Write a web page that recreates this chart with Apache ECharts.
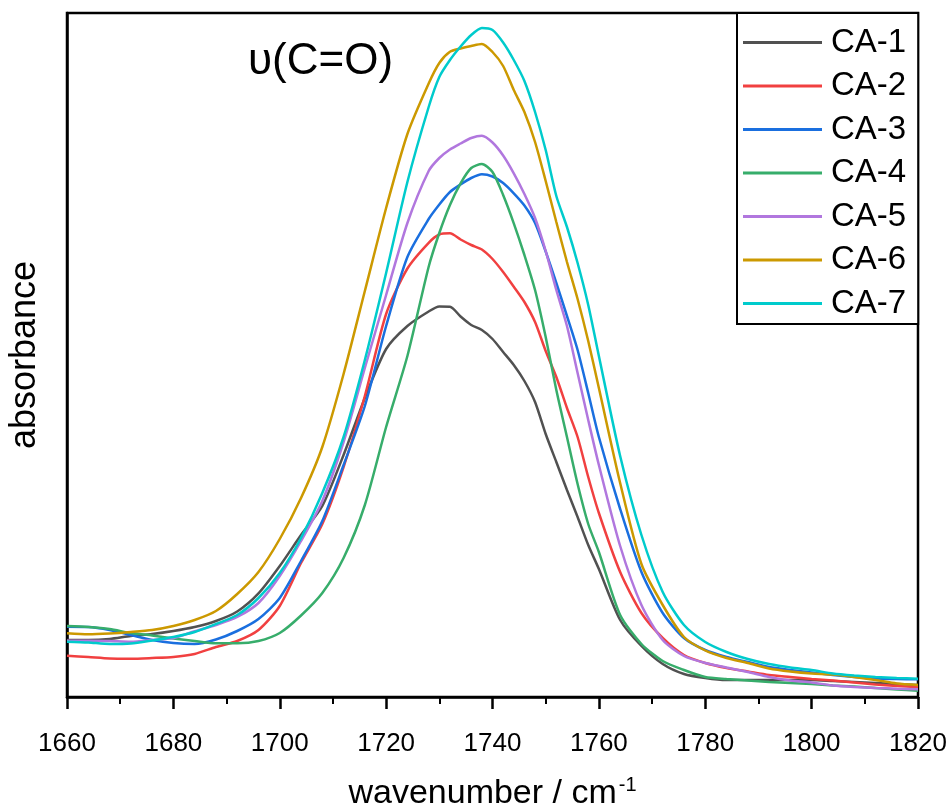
<!DOCTYPE html>
<html>
<head>
<meta charset="utf-8">
<script src="https://cdn.jsdelivr.net/npm/echarts@6/dist/echarts.min.js"></script>
<style>html,body{margin:0;padding:0;background:#fff}#c{width:951px;height:806px}</style>
</head>
<body>
<div id="c"></div>
<script>
var wavenumbers = [1660,1664,1668,1672,1676,1680,1684,1688,1692,1696,1700,1704,1708,1712,1716,1720,1724,1728,
  1730,1732,1734,1736,1738,1740,1742,1744,1746,1748,1750,1752,1754,1756,1758,1760,
  1764,1768,1772,1776,1780,1784,1788,1792,1796,1800,1804,1808,1812,1816,1820];
var seriesNames = ['CA-1','CA-2','CA-3','CA-4','CA-5','CA-6','CA-7'];
var ca1 = [57,57,58,61,63,66,70,76,85.5,103.6,131,162,191,242,299,348,371,385.5,
  390.5,390.3,380.5,372,367,358,345,332,316,295,263,235,207,180,152,128,
  77,51,33,23,19,17,17,17,17,17,16,15,14,13,12];
var ca2 = [41.3,40,38.5,38.3,39,40,43,50,56,67,91,134,173,230,301,383,428.5,454.2,
  462.5,463.7,457.5,452,447.5,438,425,410.3,395,375,346,320,289,260,220,184,
  125,84,59,42,34,29,25.5,22,20,18,16.5,14.5,12.5,11,9.7];
var ca3 = [70.3,70,67,62,57,54,53,57.5,66,78,99,136,176,232,291,371,440,478,
  492.5,505,512.5,519,522.7,520.5,514,503.7,491.5,474,445.5,414,381,347,304,260,
  188,125,84,59,47,40,35,30,27,24.5,22,20,18.5,18,17.7];
var ca4 = [71,70,68,64,61.5,58.5,56,53.7,53.7,56,64,81.5,104,139,192,270,341,430.3,
  464,492,513.7,529,533,525,502,473.7,442,407,360,307,260,213,173,145,
  82,53,36,27,20,18,16.5,15,14,13,11.5,10.5,9,7.5,6.3];
var ca5 = [56.3,56.3,56,55.3,57,59,65.7,72,80,94,121,156,196,255,329,402,474,526,
  539,547.5,553.5,559,561.3,554.5,541.5,523.7,503,479,446,407,371,324,277,232,
  151,92,57,41,34,29.5,25,20,16.5,14.5,11.5,10,9,8.3,7.7];
var ca6 = [63.7,62.7,63.5,65,67,71,77,86,103,125,158,199,250,323,406,489,563,613.5,
  634,645.2,648.5,651,653,645,631,607,585,555,516,475,435,398,356,309,
  214,133,92,60,46.5,39,34,28.5,25.5,23.5,22.5,20,17,13.5,12];
var ca7 = [55.3,54.5,53,53.5,56.5,60,65,73,82,99,124,159,204,260,337,424,515,590,
  620,637,650.5,662,669,667,654.5,637,616,585,547,501,470,434,392,341,
  241,162,105,72,55,45,38,33,29.5,27,23.5,21.5,20,19,18.3];
var xTicks = [1660,1680,1700,1720,1740,1760,1780,1800,1820];
var colors = ['#515151','#F14040','#1A6FDF','#37AD6B','#B177DE','#CC9900','#00CBCC'];
var allData = [ca1,ca2,ca3,ca4,ca5,ca6,ca7];

var FONT = '"Liberation Sans", Arial, sans-serif';
var chart = echarts.init(document.getElementById('c'), null, {renderer:'canvas'});
var series = seriesNames.map(function(n,i){
  return {
    name:n, type:'line', symbol:'none', showSymbol:false, smooth:0.25,
    data: wavenumbers.map(function(w,k){return [w, allData[i][k]];}),
    lineStyle:{color:colors[i], width:2.5}, itemStyle:{color:colors[i]},
    emphasis:{disabled:true}, z: 2
  };
});
chart.setOption({
  animation:false,
  backgroundColor:'#fff',
  grid:{left:67, right:33, top:13, bottom:109, show:true, borderColor:'#000', borderWidth:2.5,
        containLabel:false, outerBoundsMode:'none'},
  xAxis:{
    type:'value', min:1660, max:1820, interval:20,
    name:'{a|wavenumber / cm}{s|-1}', nameLocation:'middle', nameGap:78,
    nameTextStyle:{rich:{a:{fontFamily:FONT, fontSize:34, color:'#000', verticalAlign:'bottom'},
                         s:{fontFamily:FONT, fontSize:20, color:'#000', verticalAlign:'top', padding:[0,0,16,2]}}},
    axisLine:{show:true, lineStyle:{color:'#000', width:2.5}},
    axisTick:{show:true, inside:false, length:12, lineStyle:{color:'#000', width:2.5}},
    minorTick:{show:true, splitNumber:2, length:7, lineStyle:{color:'#000', width:2}},
    axisLabel:{fontFamily:FONT, fontSize:26, color:'#000', margin:34,
      formatter:function(v){return xTicks.indexOf(v)>=0 ? String(v) : '';}},
    splitLine:{show:false}
  },
  yAxis:{
    type:'value', min:0, max:684,
    name:'absorbance', nameLocation:'middle', nameGap:24, nameRotate:90,
    nameTextStyle:{fontFamily:FONT, fontSize:36, color:'#000'},
    axisLine:{show:true, lineStyle:{color:'#000', width:2.5}},
    axisTick:{show:false}, axisLabel:{show:false}, splitLine:{show:false}
  },
  legend:{
    orient:'vertical', left:737, top:13,
    padding:[13,12,4,6], itemWidth:79, itemHeight:3, itemGap:10.5, icon:'rect',
    borderColor:'#000', borderWidth:2, backgroundColor:'#fff',
    textStyle:{fontFamily:FONT, fontSize:33, color:'#000', padding:[0,0,0,4], lineHeight:30},
    data:seriesNames
  },
  graphic:[{type:'text', left:248, top:40, z:10,
    style:{text:'\u03C5(C=O)', font:'44px '+FONT, fill:'#000'}}],
  series:series
});
</script>
</body>
</html>
